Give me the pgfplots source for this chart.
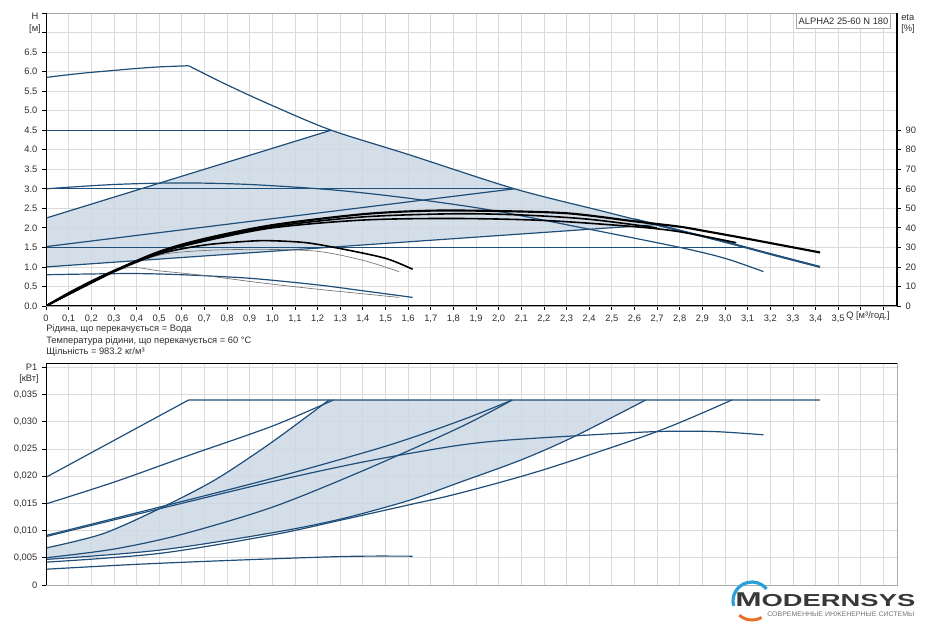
\documentclass[border=0pt]{standalone}
\usepackage{fontspec}
\setmainfont{Liberation Sans}
\usepackage{pgfplots}
\pgfplotsset{compat=1.18}
\definecolor{pblue}{RGB}{31,78,121}
\definecolor{pfill}{RGB}{204,216,229}
\definecolor{pgrid}{RGB}{218,218,218}
\definecolor{pframe}{RGB}{170,170,170}
\definecolor{ptext}{RGB}{45,45,45}
\definecolor{logoblue}{RGB}{40,160,220}
\definecolor{logoorange}{RGB}{235,110,40}
\begin{document}
\begin{tikzpicture}
\path[use as bounding box] (0,0) rectangle (695.25pt,465.75pt);
\pgfplotsset{
  common/.style={scale only axis, width=638.25pt, xmin=0, xmax=3.76,
    tick label style={font=\fontsize{7}{8}\selectfont, text=ptext},
    grid=major, major grid style={pgrid, line width=0.6pt},
    axis line style={pframe, line width=0.6pt},
    tick align=outside, major tick length=3pt,
    tick style={black, line width=0.6pt},
    xtick={0,0.1,...,3.75}, clip=true},
  bl/.style={pblue, line width=0.9pt},
  eta/.style={black, line width=1.2pt, smooth},
}
% ================= TOP: H(Q) =================
\begin{axis}[common, at={(34.5pt,236.25pt)}, anchor=south west, height=219.75pt,
  ymin=0, ymax=7.5, ytick={0,0.5,...,7.6},
  yticklabels={0.0,0.5,1.0,1.5,2.0,2.5,3.0,3.5,4.0,4.5,5.0,5.5,6.0,6.5,{},{}},
  xticklabels={0,{0,1},{0,2},{0,3},{0,4},{0,5},{0,6},{0,7},{0,8},{0,9},{1,0},{1,1},{1,2},{1,3},{1,4},{1,5},{1,6},{1,7},{1,8},{1,9},{2,0},{2,1},{2,2},{2,3},{2,4},{2,5},{2,6},{2,7},{2,8},{2,9},{3,0},{3,1},{3,2},{3,3},{3,4},{3,5},{},{}},
  xtick pos=left, ytick pos=left]
% AUTOADAPT area
\addplot[fill=pfill, draw=none, fill opacity=0.85] coordinates {(0,1.0)(0,2.25)(1.26,4.5)(1.6,3.88)(2.07,3.0)(2.45,2.44)(2.69,2.09)} -- cycle;
% max curve
\addplot[bl, smooth] coordinates {(0,5.85)(0.1,5.92)(0.2,5.98)(0.3,6.03)(0.4,6.08)(0.5,6.12)(0.63,6.15)};
\addplot[bl, smooth] coordinates {(0.63,6.15)(0.8,5.66)(1.0,5.13)(1.26,4.5)(1.6,3.88)(2.07,3.0)(2.45,2.44)(2.69,2.09)(3.0,1.64)(3.42,1.0)};
\addplot[pblue, line width=1.5pt, smooth] coordinates {(2.6,2.22)(2.69,2.09)(3.0,1.64)(3.2,1.33)(3.42,1.0)};
% constant / proportional pressure
\addplot[bl] coordinates {(0,4.5)(1.26,4.5)};
\addplot[bl] coordinates {(0,2.25)(1.26,4.5)};
\addplot[bl] coordinates {(0,3.0)(2.07,3.0)};
\addplot[bl] coordinates {(0,1.52)(2.07,3.0)};
\addplot[bl] coordinates {(0,1.5)(3.08,1.5)};
\addplot[bl] coordinates {(0,1.0)(2.69,2.08)};
% fixed speeds
\addplot[bl, smooth] coordinates {(0,3.0)(0.3,3.11)(0.6,3.15)(0.9,3.11)(1.27,2.97)(1.6,2.76)(1.96,2.46)(2.37,2.0)(2.8,1.5)(3.0,1.22)(3.17,0.88)};
\addplot[bl, smooth] coordinates {(0,0.8)(0.2,0.82)(0.4,0.83)(0.6,0.8)(0.9,0.71)(1.2,0.54)(1.4,0.39)(1.62,0.22)};
% efficiency curves (eta, plotted on the H scale: 20 % = 1 m)
\addplot[black!55, line width=0.5pt, smooth] coordinates {(0,0)(0.2,0.62)(0.36,0.98)(0.5,0.9)(0.7,0.78)(0.94,0.6)(1.2,0.43)(1.56,0.22)};
\addplot[black!55, line width=0.5pt, smooth] coordinates {(0,0)(0.3,0.86)(0.5,1.3)(0.7,1.42)(0.95,1.45)(1.2,1.4)(1.4,1.17)(1.56,0.88)};
\addplot[eta] coordinates {(0,0)(0.3,0.88)(0.5,1.33)(0.7,1.56)(0.9,1.66)(1.0,1.67)(1.15,1.62)(1.3,1.47)(1.5,1.22)(1.62,0.94)};
\addplot[eta] coordinates {(0,0)(0.3,0.88)(0.5,1.36)(0.7,1.66)(1.0,2.0)(1.4,2.2)(1.8,2.24)(2.2,2.19)(2.6,2.03)(2.8,1.9)(3.05,1.62)};
\addplot[eta] coordinates {(0,0)(0.3,0.89)(0.5,1.37)(0.7,1.69)(1.0,2.03)(1.4,2.28)(1.8,2.36)(2.1,2.33)(2.4,2.22)(2.7,2.0)};
\addplot[eta, line width=1.6pt] coordinates {(0,0)(0.1,0.33)(0.2,0.63)(0.3,0.9)(0.5,1.39)(0.7,1.72)(1.0,2.07)(1.4,2.35)(1.7,2.44)(2.0,2.43)(2.31,2.37)(2.61,2.16)(2.8,2.03)(2.9,1.93)(3.1,1.72)(3.42,1.37)};
% frame
\draw[black, line width=0.8pt] (rel axis cs:0,0) -- (rel axis cs:0,1);
\draw[black, line width=0.8pt] (rel axis cs:0,0) -- (rel axis cs:1,0);
\end{axis}
% eta axis (right)
\begin{axis}[scale only axis, width=638.25pt, height=219.75pt, at={(34.5pt,236.25pt)}, anchor=south west,
  xmin=0, xmax=3.76, ymin=0, ymax=150, axis x line=none, axis y line*=right,
  axis line style={-, black, line width=0.8pt},
  ytick={0,10,20,30,40,50,60,70,80,90}, yticklabels={0,10,20,30,40,50,60,70,80,90},
  tick align=outside, major tick length=3pt, tick style={black, line width=0.6pt},
  tick label style={font=\fontsize{7}{8}\selectfont, text=ptext}]
\end{axis}
% ================= BOTTOM: P1(Q) =================
\begin{axis}[common, at={(34.5pt,27pt)}, anchor=south west, height=166.3pt,
  ymin=0, ymax=0.04075, scaled y ticks=false,
  ytick={0,0.005,0.01,0.015,0.02,0.025,0.03,0.035,0.04},
  yticklabels={0,{0,005},{0,010},{0,015},{0,020},{0,025},{0,030},{0,035},P1},
  xticklabels={}, major x tick style={draw=none}, ytick pos=left]
\addplot[fill=pfill, draw=none, fill opacity=0.85] coordinates {(0,0.0068)(0.25,0.0094)(0.5,0.0140)(0.75,0.0194)(1.0,0.0263)(1.25,0.034)(2.65,0.034)(2.33,0.0272)(2.1,0.0230)(1.83,0.0189)(1.6,0.0155)(1.3,0.0121)(1.0,0.0096)(0.5,0.0064)(0,0.0047)} -- cycle;
\addplot[bl] coordinates {(0,0.0198)(0.63,0.034)(3.42,0.034)};
\addplot[bl, smooth] coordinates {(0,0.0149)(0.3,0.0189)(0.63,0.0238)(1.0,0.0292)(1.27,0.034)};
\addplot[bl, smooth] coordinates {(0,0.0068)(0.25,0.0094)(0.5,0.0140)(0.75,0.0194)(1.0,0.0263)(1.25,0.034)};
\addplot[bl, smooth] coordinates {(0,0.0091)(0.5,0.0143)(1.0,0.0196)(1.5,0.0255)(1.83,0.0302)(2.06,0.034)};
\addplot[bl, smooth] coordinates {(0,0.0089)(0.5,0.0140)(1.0,0.0190)(1.4,0.0226)(1.78,0.0254)(2.0,0.0265)(2.33,0.0274)(2.7,0.0282)(2.95,0.0282)(3.17,0.0276)};
\addplot[bl, smooth] coordinates {(0,0.0050)(0.3,0.0066)(0.6,0.0093)(1.0,0.0143)(1.4,0.0210)(1.83,0.0290)(2.06,0.034)};
\addplot[bl, smooth] coordinates {(0,0.0047)(0.5,0.0064)(1.0,0.0096)(1.3,0.0121)(1.6,0.0155)(1.83,0.0189)(2.1,0.0230)(2.33,0.0272)(2.65,0.034)};
\addplot[bl, smooth] coordinates {(0,0.0042)(0.5,0.0058)(1.0,0.0092)(1.3,0.0119)(1.6,0.0147)(1.83,0.0169)(2.2,0.0212)(2.7,0.0282)(3.03,0.034)};
\addplot[bl, smooth] coordinates {(0,0.0029)(0.4,0.0038)(0.8,0.0045)(1.2,0.0051)(1.4,0.0053)(1.62,0.0053)};
\draw[black, line width=0.8pt] (rel axis cs:0,0) -- (rel axis cs:0,1);
\draw[black, line width=0.8pt] (rel axis cs:0,1) -- (rel axis cs:1,1);
\end{axis}
% ================= texts (pixel coordinates) =================
\begin{scope}[x=0.75pt, y=-0.75pt, shift={(0pt,465.75pt)}, every node/.style={font=\fontsize{7}{8}\selectfont, text=ptext, inner sep=0pt}]
\node at (35,16) {H};
\node at (35,29) {[м]};
\node[anchor=west] at (901,18) {eta};
\node[anchor=west] at (901,29) {[\%]};
\node[draw=pframe, fill=white, minimum width=70pt, minimum height=11pt, line width=0.6pt] at (843.5,20.8) {ALPHA2 25-60 N 180};
\node[anchor=west] at (846,316) {Q [м³/год.]};
\node[anchor=west] at (46,329.3) {Рідина, що перекачується = Вода};
\node[anchor=west] at (46,341) {Температура рідини, що перекачується = 60 °C};
\node[anchor=west] at (46,352.5) {Щільність = 983.2 кг/м³};
\node[anchor=east] at (39,379) {[кВт]};
% logo
\draw[logoblue, line width=2.4pt] (752,601) ++(-195:19) arc (-195:-40:19);
\draw[logoorange, line width=2.2pt] (752,601) ++(-228:19) arc (-228:-300:19);
\node[anchor=west, text=black!78] at (735,600) {\scalebox{1.58}[1]{\fontsize{15}{16}\selectfont\bfseries M\fontsize{13}{14}\selectfont ODERNSYS}};
\node[anchor=west, text=black!55] at (767,614) {\scalebox{1.05}[1]{\fontsize{5}{6}\selectfont СОВРЕМЕННЫЕ ИНЖЕНЕРНЫЕ СИСТЕМЫ}};
\end{scope}
\end{tikzpicture}
\end{document}
